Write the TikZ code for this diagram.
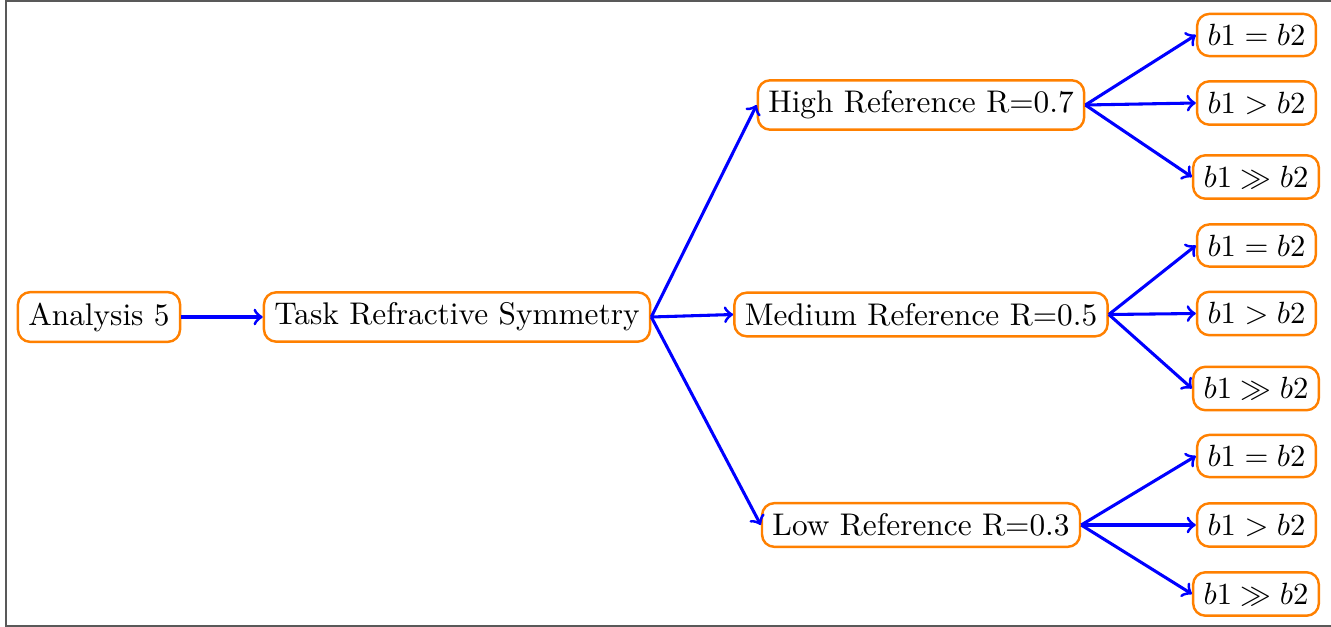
\documentclass[tikz,border=0pt]{standalone}
\usepackage{amssymb}
\begin{document}
\begin{tikzpicture}[x=0.3257pt,y=-0.3257pt,
  box/.style={draw=orange,thick,rounded corners=4pt,fill=white,inner sep=3.4pt,font=\fontsize{10.2pt}{12pt}\selectfont},
  arr/.style={->,blue,line width=1pt}]
\useasboundingbox (0,0) rectangle (1331,627);
\draw[gray!70!black,line width=0.4pt] (1340,1) -- (6,1) -- (6,626) -- (1340,626);
\node[box] (a) at (99,317) {Analysis 5};
\node[box] (t) at (457,317) {Task Refractive Symmetry};
\node[box] (h) at (921,105) {High Reference R=0.7};
\node[box] (m) at (921,314.5) {Medium Reference R=0.5};
\node[box] (l) at (921,525) {Low Reference R=0.3};
\node[box] (h1) at (1256.5,35) {$b1=b2$};
\node[box] (h2) at (1256.5,103) {$b1>b2$};
\node[box] (h3) at (1256,177) {$b1\gg b2$};
\node[box] (m1) at (1256.5,245.5) {$b1=b2$};
\node[box] (m2) at (1256.5,313.5) {$b1>b2$};
\node[box] (m3) at (1256,388.5) {$b1\gg b2$};
\node[box] (l1) at (1256.5,456) {$b1=b2$};
\node[box] (l2) at (1256.5,525) {$b1>b2$};
\node[box] (l3) at (1256,594) {$b1\gg b2$};
\draw[arr] (a.east) -- (t.west);
\foreach \c in {h,m,l} \draw[arr] (t.east) -- (\c.west);
\foreach \c in {h,m,l} {
  \foreach \i in {1,2,3} \draw[arr] (\c.east) -- (\c\i.west);
}
\end{tikzpicture}
\end{document}
